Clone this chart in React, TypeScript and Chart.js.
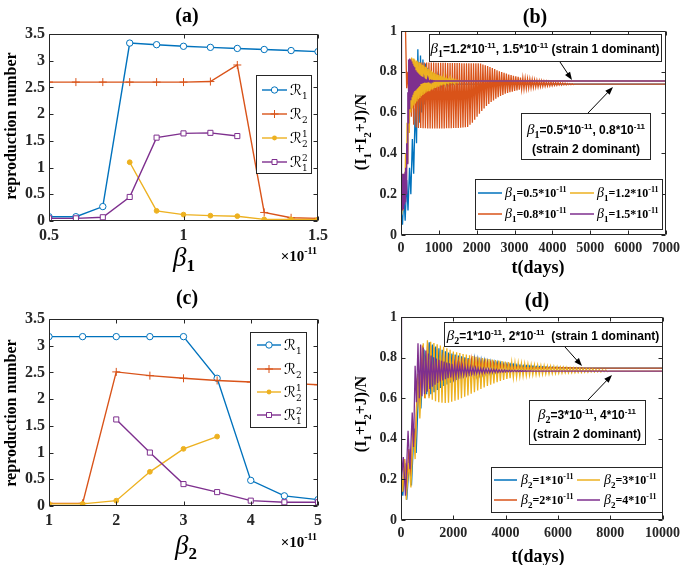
import React, { useEffect, useRef } from 'react';
import { Chart, registerables } from 'chart.js';

Chart.register(...registerables);

const BLUE = '#0072BD';
const ORANGE = '#D95319';
const YELLOW = '#EDB120';
const PURPLE = '#7E2F8E';
const AXIS = '#262626';
const SERIF = "'Liberation Serif', 'Times New Roman', serif";
const SANS = "'Liberation Sans', Arial, sans-serif";
const MATH = "'DejaVu Serif', 'DejaVu Sans', serif";

// ---------------- panel (a): reproduction numbers vs beta1 (x 1e-11) ----------------
const A_BETA1 = [0.5, 0.6, 0.7, 0.8, 0.9, 1.0, 1.1, 1.2, 1.3, 1.4, 1.5];
const A_R1 = [0.08, 0.08, 0.27, 3.33, 3.3, 3.27, 3.25, 3.23, 3.21, 3.19, 3.17];
const A_R2 = [2.6, 2.6, 2.6, 2.6, 2.6, 2.6, 2.61, 2.92, 0.16, 0.06, 0.05];
const A_R21 = [null, null, null, 1.1, 0.19, 0.12, 0.1, 0.09, 0.03, 0.03, 0.03];
const A_R12 = [0.05, 0.05, 0.07, 0.45, 1.56, 1.64, 1.65, 1.59, null, null, null];

// ---------------- panel (c): reproduction numbers vs beta2 (x 1e-11) ----------------
const C_BETA2 = [1, 1.5, 2, 2.5, 3, 3.5, 4, 4.5, 5];
const C_R1 = [3.17, 3.17, 3.17, 3.17, 3.17, 2.39, 0.48, 0.19, 0.12];
const C_R2 = [0.05, 0.05, 2.51, 2.44, 2.39, 2.35, 2.32, 2.3, 2.27];
const C_R21 = [0.04, 0.04, 0.1, 0.64, 1.07, 1.3, null, null, null];
const C_R12 = [null, null, 1.62, 1.0, 0.41, 0.26, 0.1, 0.07, 0.07];

// ---------------- panel (b): (I1+I2+J)/N vs t, beta1 varied ----------------
// each series: leading points (t, v), then alternating extrema
// (first list starts at T0, samples HALF days apart), then the settled value.
const B_TMAX = 7000;
const B_BLUE_PRE_T = [0, 40, 75, 110, 150, 185, 225, 260, 300, 335, 375, 410, 445, 480, 515];
const B_BLUE_PRE_V = [0.12, 0.05, 0.2, 0.07, 0.27, 0.12, 0.33, 0.2, 0.47, 0.3, 0.62, 0.45, 0.91, 0.55, 0.88];
const B_BLUE_T0 = 547;
const B_BLUE_HALF = 32;
const B_BLUE_A = [0.6, 0.64, 0.67, 0.69, 0.7, 0.71, 0.715, 0.72, 0.725, 0.728, 0.731, 0.734, 0.736, 0.738];
const B_BLUE_B = [0.86, 0.84, 0.82, 0.805, 0.795, 0.785, 0.775, 0.768, 0.762, 0.756, 0.752, 0.748, 0.745, 0.743];
const B_BLUE_END = 0.74;

const B_ORANGE_PRE_T = [0, 120, 150];
const B_ORANGE_PRE_V = [1.0, 1.0, 0.72];
const B_ORANGE_T0 = 180;
const B_ORANGE_HALF = 31;
const B_ORANGE_A = [
  0.8, 0.84, 0.85, 0.848, 0.847, 0.847, 0.846, 0.846, 0.845, 0.845,
  0.845, 0.845, 0.844, 0.844, 0.844, 0.844, 0.844, 0.843, 0.843, 0.843,
  0.843, 0.843, 0.843, 0.842, 0.842, 0.842, 0.842, 0.842, 0.842, 0.842,
  0.842, 0.84, 0.836, 0.832, 0.828, 0.823, 0.818, 0.813, 0.808, 0.803,
  0.799, 0.795, 0.791, 0.787, 0.784, 0.781, 0.778, 0.775, 0.772, 0.77,
  0.768, 0.766, 0.764, 0.762, 0.76, 0.758, 0.756, 0.755, 0.753, 0.752,
  0.751, 0.75, 0.749, 0.748, 0.747, 0.746, 0.745, 0.744, 0.743, 0.742, 0.741,
];
const B_ORANGE_B = [
  0.66, 0.58, 0.54, 0.527, 0.525, 0.524, 0.523, 0.523, 0.522, 0.522,
  0.522, 0.522, 0.522, 0.522, 0.522, 0.522, 0.523, 0.523, 0.523, 0.524,
  0.524, 0.525, 0.526, 0.527, 0.528, 0.53, 0.54, 0.55, 0.565, 0.58,
  0.595, 0.608, 0.62, 0.632, 0.642, 0.652, 0.66, 0.668, 0.675, 0.681,
  0.687, 0.692, 0.696, 0.7, 0.703, 0.706, 0.709, 0.712, 0.714, 0.716,
  0.718, 0.72, 0.722, 0.723, 0.725, 0.726, 0.727, 0.728, 0.729, 0.73,
  0.731, 0.732, 0.733, 0.734, 0.735, 0.735, 0.736, 0.736, 0.737, 0.737, 0.738,
];
const B_ORANGE_END = 0.74;

const B_YELLOW_PRE_T = [0, 20, 40, 60, 80, 100, 120, 140, 160, 180, 200, 220];
const B_YELLOW_PRE_V = [0.15, 0.1, 0.2, 0.12, 0.3, 0.17, 0.4, 0.25, 0.55, 0.35, 0.7, 0.5];
const B_YELLOW_T0 = 240;
const B_YELLOW_HALF = 20;
const B_YELLOW_A = [
  0.86, 0.87, 0.865, 0.86, 0.855, 0.85, 0.845, 0.84, 0.835, 0.83, 0.825, 0.82,
  0.815, 0.81, 0.805, 0.8, 0.795, 0.79, 0.787, 0.784, 0.781, 0.778, 0.775, 0.772,
  0.77, 0.768, 0.766, 0.764, 0.762, 0.761, 0.76, 0.759, 0.758, 0.757, 0.756,
];
const B_YELLOW_B = [
  0.6, 0.62, 0.635, 0.645, 0.655, 0.665, 0.672, 0.68, 0.686, 0.692, 0.698, 0.703,
  0.708, 0.712, 0.716, 0.72, 0.724, 0.727, 0.73, 0.733, 0.736, 0.738, 0.74, 0.742,
  0.744, 0.746, 0.747, 0.748, 0.749, 0.75, 0.751, 0.752, 0.753, 0.754, 0.755,
];
const B_YELLOW_END = 0.755;

const B_PURPLE_PRE_T = [0, 8, 18, 28, 38, 48, 58, 68, 78, 88, 98, 108, 118, 128, 138, 150, 165, 180, 190];
const B_PURPLE_PRE_V = [1.0, 0.3, 0.12, 0.3, 0.12, 0.28, 0.13, 0.3, 0.14, 0.29, 0.15, 0.31, 0.16, 0.33, 0.2, 0.45, 0.35, 0.7, 0.55];
const B_PURPLE_T0 = 200;
const B_PURPLE_HALF = 12;
const B_PURPLE_A = [
  0.86, 0.865, 0.86, 0.85, 0.84, 0.83, 0.822, 0.815, 0.808, 0.8, 0.795, 0.79,
  0.785, 0.78, 0.777, 0.774, 0.771, 0.768, 0.766, 0.764, 0.762, 0.761, 0.76,
  0.759, 0.758, 0.757, 0.757, 0.756, 0.756,
];
const B_PURPLE_B = [
  0.62, 0.64, 0.66, 0.675, 0.688, 0.698, 0.706, 0.713, 0.719, 0.724, 0.729, 0.733,
  0.737, 0.74, 0.742, 0.744, 0.746, 0.748, 0.749, 0.75, 0.751, 0.752, 0.752,
  0.753, 0.753, 0.754, 0.754, 0.755, 0.755,
];
const B_PURPLE_END = 0.755;

// ---------------- panel (d): (I1+I2+J)/N vs t, beta2 varied ----------------
const D_TMAX = 10000;
const D_BLUE_PRE_T = [0, 70, 150, 220, 320, 400, 500, 580, 680, 760, 880, 980];
const D_BLUE_PRE_V = [0.22, 0.12, 0.28, 0.1, 0.3, 0.17, 0.45, 0.33, 0.68, 0.55, 0.84, 0.62];
const D_BLUE_T0 = 1080;
const D_BLUE_HALF = 62;
const D_BLUE_A = [
  0.875, 0.865, 0.855, 0.846, 0.838, 0.831, 0.825, 0.82, 0.815, 0.81,
  0.806, 0.802, 0.798, 0.795, 0.792, 0.789, 0.786, 0.783, 0.78, 0.778,
  0.776, 0.774, 0.772, 0.77, 0.768, 0.766, 0.765, 0.764, 0.762, 0.761,
  0.76, 0.759, 0.758, 0.757, 0.756, 0.755, 0.754, 0.753, 0.753, 0.752,
  0.752, 0.751, 0.751, 0.75, 0.75, 0.749, 0.749, 0.749,
];
const D_BLUE_B = [
  0.62, 0.63, 0.64, 0.65, 0.66, 0.668, 0.676, 0.683, 0.69, 0.696,
  0.701, 0.706, 0.71, 0.714, 0.718, 0.721, 0.724, 0.727, 0.729, 0.731,
  0.733, 0.735, 0.737, 0.738, 0.739, 0.74, 0.741, 0.742, 0.743, 0.743,
  0.744, 0.744, 0.745, 0.745, 0.745, 0.746, 0.746, 0.746, 0.747, 0.747,
  0.747, 0.747, 0.748, 0.748, 0.748, 0.748, 0.748, 0.748,
];
const D_BLUE_END = 0.748;

const D_ORANGE_PRE_T = [0, 60, 140, 210, 300, 380, 470, 540, 630, 710, 820, 910];
const D_ORANGE_PRE_V = [0.2, 0.14, 0.3, 0.15, 0.35, 0.22, 0.47, 0.36, 0.7, 0.55, 0.86, 0.6];
const D_ORANGE_T0 = 1020;
const D_ORANGE_HALF = 60;
const D_ORANGE_A = [
  0.87, 0.86, 0.85, 0.842, 0.835, 0.828, 0.822, 0.817, 0.812, 0.808,
  0.804, 0.8, 0.796, 0.793, 0.79, 0.787, 0.784, 0.781, 0.779, 0.777,
  0.775, 0.773, 0.771, 0.769, 0.767, 0.766, 0.765, 0.763, 0.762, 0.761,
  0.76, 0.759, 0.758, 0.757, 0.756, 0.755, 0.754, 0.754, 0.753, 0.753,
  0.752, 0.752, 0.751, 0.751, 0.75, 0.75, 0.75, 0.749, 0.749, 0.749,
];
const D_ORANGE_B = [
  0.61, 0.625, 0.638, 0.65, 0.66, 0.669, 0.677, 0.684, 0.69, 0.696,
  0.701, 0.706, 0.71, 0.714, 0.717, 0.72, 0.723, 0.726, 0.728, 0.73,
  0.732, 0.734, 0.736, 0.737, 0.738, 0.739, 0.74, 0.741, 0.742, 0.743,
  0.743, 0.744, 0.744, 0.745, 0.745, 0.746, 0.746, 0.746, 0.747, 0.747,
  0.747, 0.747, 0.748, 0.748, 0.748, 0.748, 0.748, 0.748, 0.748, 0.748,
];
const D_ORANGE_END = 0.748;

const D_YELLOW_PRE_T = [0, 60, 130, 200, 300, 380, 470, 540, 640, 720, 850, 930];
const D_YELLOW_PRE_V = [0.25, 0.14, 0.3, 0.1, 0.28, 0.16, 0.45, 0.3, 0.72, 0.5, 0.87, 0.6];
const D_YELLOW_T0 = 1010;
const D_YELLOW_HALF = 62;
const D_YELLOW_A = [
  0.885, 0.878, 0.872, 0.866, 0.86, 0.853, 0.846, 0.838, 0.83, 0.826,
  0.822, 0.818, 0.815, 0.811, 0.808, 0.804, 0.8, 0.798, 0.795, 0.793,
  0.79, 0.788, 0.785, 0.783, 0.78, 0.778, 0.777, 0.775, 0.773, 0.771,
  0.769, 0.767, 0.765, 0.764, 0.762, 0.761, 0.76, 0.758, 0.757, 0.756,
  0.754, 0.753, 0.752, 0.751, 0.75, 0.749, 0.748, 0.747, 0.746, 0.745,
  0.744, 0.743, 0.742, 0.741, 0.74, 0.739,
];
const D_YELLOW_B = [
  0.6, 0.592, 0.585, 0.58, 0.578, 0.577, 0.578, 0.582, 0.587, 0.593,
  0.6, 0.607, 0.614, 0.622, 0.63, 0.638, 0.646, 0.653, 0.66, 0.667,
  0.673, 0.679, 0.685, 0.69, 0.695, 0.698, 0.701, 0.704, 0.707, 0.709,
  0.711, 0.713, 0.715, 0.716, 0.717, 0.718, 0.719, 0.72, 0.721, 0.722,
  0.723, 0.724, 0.725, 0.725, 0.726, 0.726, 0.727, 0.727, 0.728, 0.728,
  0.729, 0.729, 0.73, 0.73, 0.731, 0.731,
];
const D_YELLOW_END = 0.733;

const D_PURPLE_PRE_T = [0, 20, 90, 170, 270, 340, 430, 480, 540, 590];
const D_PURPLE_PRE_V = [1.0, 0.2, 0.31, 0.12, 0.44, 0.25, 0.53, 0.36, 0.76, 0.58];
const D_PURPLE_T0 = 650;
const D_PURPLE_HALF = 50;
const D_PURPLE_A = [
  0.87, 0.865, 0.85, 0.835, 0.82, 0.81, 0.802, 0.795, 0.789, 0.784,
  0.78, 0.776, 0.772, 0.769, 0.766, 0.763, 0.761, 0.759, 0.757, 0.755,
  0.753, 0.751, 0.75, 0.748, 0.747, 0.746, 0.745, 0.744, 0.743, 0.742,
  0.741, 0.74, 0.739, 0.739, 0.738, 0.738, 0.737, 0.737, 0.736, 0.736,
  0.735, 0.735, 0.734, 0.734,
];
const D_PURPLE_B = [
  0.6, 0.61, 0.62, 0.632, 0.645, 0.656, 0.666, 0.675, 0.682, 0.688,
  0.693, 0.698, 0.702, 0.705, 0.708, 0.711, 0.713, 0.715, 0.717, 0.719,
  0.72, 0.721, 0.722, 0.723, 0.724, 0.725, 0.726, 0.726, 0.727, 0.728,
  0.728, 0.729, 0.729, 0.73, 0.73, 0.73, 0.731, 0.731, 0.731, 0.732,
  0.732, 0.732, 0.733, 0.733,
];
const D_PURPLE_END = 0.733;

// ---------------- layout ----------------
const PAGE_W = 685;
const PAGE_H = 565;
const YW = 40;
const XH = 30;
const RA = { l: 49, t: 34, r: 318, b: 221 };
const RB = { l: 401, t: 31, r: 670, b: 235 };
const RC = { l: 49, t: 319, r: 318, b: 506 };
const RD = { l: 401, t: 317, r: 670, b: 520 };

type Pt = { x: number; y: number | null };

function catSeries(xs: number[], ys: (number | null)[]): Pt[] {
  return xs.map((x, i) => ({ x, y: ys[i] }));
}

function timeSeries(preT: number[], preV: number[], t0: number, half: number, a: number[], b: number[], end: number, tMax: number): Pt[] {
  const pts: Pt[] = preT.map((t, i) => ({ x: t, y: preV[i] }));
  let t = t0;
  const n = Math.max(a.length, b.length);
  for (let i = 0; i < n; i++) {
    if (i < a.length) { pts.push({ x: t, y: a[i] }); t += half; }
    if (i < b.length) { pts.push({ x: t, y: b[i] }); t += half; }
  }
  pts.push({ x: t, y: end });
  pts.push({ x: tMax, y: end });
  return pts;
}

// ---------------- drawing helpers ----------------
type Seg = { s: string; f: string; dy?: number; stack?: boolean };

function rich(ctx: CanvasRenderingContext2D, segs: Seg[], x: number, y: number, align: string = 'left', color = '#000') {
  let w = 0;
  for (const g of segs) { ctx.font = g.f; if (!g.stack) w += ctx.measureText(g.s).width; }
  let cx = align === 'left' ? x : align === 'center' ? x - w / 2 : x - w;
  ctx.textAlign = 'left';
  ctx.textBaseline = 'alphabetic';
  ctx.fillStyle = color;
  for (const g of segs) {
    ctx.font = g.f;
    ctx.fillText(g.s, cx, y + (g.dy || 0));
    if (!g.stack) cx += ctx.measureText(g.s).width;
  }
}

function box(ctx: CanvasRenderingContext2D, x1: number, y1: number, x2: number, y2: number) {
  ctx.fillStyle = '#fff';
  ctx.fillRect(x1, y1, x2 - x1, y2 - y1);
  ctx.strokeStyle = '#262626';
  ctx.lineWidth = 1;
  ctx.strokeRect(x1 + 0.5, y1 + 0.5, x2 - x1 - 1, y2 - y1 - 1);
}

function arrow(ctx: CanvasRenderingContext2D, x1: number, y1: number, x2: number, y2: number) {
  const ang = Math.atan2(y2 - y1, x2 - x1);
  const hl = 8;
  const hw = 3;
  ctx.strokeStyle = '#000';
  ctx.fillStyle = '#000';
  ctx.lineWidth = 1;
  ctx.beginPath();
  ctx.moveTo(x1, y1);
  ctx.lineTo(x2 - Math.cos(ang) * hl * 0.8, y2 - Math.sin(ang) * hl * 0.8);
  ctx.stroke();
  ctx.beginPath();
  ctx.moveTo(x2, y2);
  ctx.lineTo(x2 - Math.cos(ang) * hl - Math.sin(ang) * hw, y2 - Math.sin(ang) * hl + Math.cos(ang) * hw);
  ctx.lineTo(x2 - Math.cos(ang) * hl + Math.sin(ang) * hw, y2 - Math.sin(ang) * hl - Math.cos(ang) * hw);
  ctx.closePath();
  ctx.fill();
}

function frame(ctx: CanvasRenderingContext2D, chart: any) {
  const { left, right, top, bottom } = chart.chartArea;
  const l = Math.round(left) + 0.5;
  const r = Math.round(right) - 0.5;
  const t = Math.round(top) + 0.5;
  const b = Math.round(bottom) - 0.5;
  const TL = 4;
  ctx.strokeStyle = AXIS;
  ctx.lineWidth = 1;
  ctx.beginPath();
  ctx.rect(l, t, r - l, b - t);
  const xs = chart.scales.x;
  const ys = chart.scales.y;
  for (const tk of xs.ticks) {
    const px = Math.round(xs.getPixelForValue(tk.value)) + 0.5;
    ctx.moveTo(px, b); ctx.lineTo(px, b - TL);
    ctx.moveTo(px, t); ctx.lineTo(px, t + TL);
  }
  for (const tk of ys.ticks) {
    const py = Math.round(ys.getPixelForValue(tk.value)) + 0.5;
    ctx.moveTo(l, py); ctx.lineTo(l + TL, py);
    ctx.moveTo(r, py); ctx.lineTo(r - TL, py);
  }
  ctx.stroke();
}

function marker(ctx: CanvasRenderingContext2D, kind: string, x: number, y: number, color: string) {
  ctx.strokeStyle = color;
  ctx.lineWidth = 1;
  ctx.beginPath();
  if (kind === 'circle') {
    ctx.arc(x, y, 3.2, 0, Math.PI * 2);
    ctx.fillStyle = '#fff'; ctx.fill(); ctx.stroke();
  } else if (kind === 'cross') {
    ctx.moveTo(x - 4, y); ctx.lineTo(x + 4, y);
    ctx.moveTo(x, y - 4); ctx.lineTo(x, y + 4);
    ctx.stroke();
  } else if (kind === 'dot') {
    ctx.arc(x, y, 2.4, 0, Math.PI * 2);
    ctx.fillStyle = color; ctx.fill();
  } else if (kind === 'square') {
    ctx.rect(x - 2.5, y - 2.5, 5, 5);
    ctx.fillStyle = '#fff'; ctx.fill(); ctx.stroke();
  }
}

const bs = (px: number) => `bold ${px}px ${SERIF}`;
const bsans = (px: number) => `bold ${px}px ${SANS}`;
const ital = (px: number) => `italic ${px}px ${SERIF}`;
const math = (px: number) => `${px}px ${MATH}`;

function rLabel(sub: string, sup?: string): Seg[] {
  const segs: Seg[] = [{ s: '\u211B', f: math(15) }];
  if (sup) {
    segs.push({ s: sub, f: math(9), dy: 4, stack: true });
    segs.push({ s: sup, f: math(9), dy: -6 });
  } else {
    segs.push({ s: sub, f: math(9), dy: 4 });
  }
  return segs;
}

function betaLegend(k: string, val: string): Seg[] {
  return [
    { s: '\u03B2', f: ital(14) },
    { s: k, f: bs(9), dy: 4 },
    { s: '=' + val + '*10', f: bs(12) },
    { s: '-11', f: bs(8), dy: -5 },
  ];
}

function betaNote(k: string, v1: string, v2: string, gap: string, tail: string): Seg[] {
  const segs: Seg[] = [
    { s: '\u03B2', f: ital(15) },
    { s: k, f: bs(10), dy: 4 },
    { s: '=' + v1 + '*10', f: bsans(12) },
    { s: '-11', f: bsans(8), dy: -5 },
    { s: ', ' + v2 + '*10', f: bsans(12) },
    { s: '-11', f: bsans(8), dy: -5 },
  ];
  if (tail) segs.push({ s: gap + tail, f: bsans(12) });
  return segs;
}

function iLabel(): Seg[] {
  return [
    { s: '(I', f: bs(16) },
    { s: '1', f: bs(11), dy: 5 },
    { s: '+I', f: bs(16) },
    { s: '2', f: bs(11), dy: 5 },
    { s: '+J)/N', f: bs(16) },
  ];
}

function rotated(ctx: CanvasRenderingContext2D, segs: Seg[], x: number, y: number) {
  ctx.save();
  ctx.translate(x, y);
  ctx.rotate(-Math.PI / 2);
  rich(ctx, segs, 0, 0, 'center', '#000');
  ctx.restore();
}

type LegRow = { kind: string; color: string; label: Seg[] };

function rLegend(ctx: CanvasRenderingContext2D, x1: number, y1: number, x2: number, y2: number, rows: LegRow[], rowY: number[], lx1: number, lx2: number, tx: number) {
  box(ctx, x1, y1, x2, y2);
  rows.forEach((row, i) => {
    const y = rowY[i];
    ctx.strokeStyle = row.color;
    ctx.lineWidth = 1.4;
    ctx.beginPath();
    ctx.moveTo(lx1, y); ctx.lineTo(lx2, y);
    ctx.stroke();
    marker(ctx, row.kind, (lx1 + lx2) / 2, y, row.color);
    rich(ctx, row.label, tx, y + 5, 'left', '#000');
  });
}

function tLegend(ctx: CanvasRenderingContext2D, x1: number, y1: number, x2: number, y2: number, items: { color: string; label: Seg[] }[], rowY: number[], colLine: number[][], colText: number[]) {
  box(ctx, x1, y1, x2, y2);
  items.forEach((it, i) => {
    const col = Math.floor(i / 2);
    const row = i % 2;
    const y = rowY[row];
    ctx.strokeStyle = it.color;
    ctx.lineWidth = 1.5;
    ctx.beginPath();
    ctx.moveTo(colLine[col][0], y); ctx.lineTo(colLine[col][1], y);
    ctx.stroke();
    rich(ctx, it.label, colText[col], y + 4, 'left', '#000');
  });
}

function exponent(ctx: CanvasRenderingContext2D, x: number, y: number) {
  rich(ctx, [{ s: '\u00D710', f: bs(15) }, { s: '-11', f: bs(10), dy: -7 }], x, y, 'right', '#000');
}

// ---------------- chart configs ----------------
function options(rect: any, xr: any, yr: any, tickSize: number) {
  const font = { family: SERIF, size: tickSize, weight: 'bold' };
  return {
    animation: false,
    responsive: false,
    maintainAspectRatio: false,
    devicePixelRatio: 1,
    events: [],
    layout: {
      autoPadding: false,
      padding: { left: rect.l - YW, top: rect.t, right: PAGE_W - rect.r, bottom: PAGE_H - rect.b - XH },
    },
    plugins: { legend: { display: false }, tooltip: { enabled: false }, title: { display: false } },
    scales: {
      x: {
        type: 'linear', min: xr.min, max: xr.max,
        afterFit: (s: any) => { s.height = XH; },
        ticks: { stepSize: xr.step, autoSkip: false, maxRotation: 0, padding: 5, color: AXIS, font, callback: (v: any) => String(v) },
        grid: { display: false, drawTicks: false },
        border: { display: false },
      },
      y: {
        type: 'linear', min: yr.min, max: yr.max,
        afterFit: (s: any) => { s.width = YW; },
        ticks: { stepSize: yr.step, autoSkip: false, padding: 4, color: AXIS, font, callback: (v: any) => String(v) },
        grid: { display: false, drawTicks: false },
        border: { display: false },
      },
    },
  };
}

function overlay(draw: (ctx: CanvasRenderingContext2D, chart: any) => void) {
  return {
    id: 'overlay',
    afterDraw(chart: any) {
      const ctx = chart.ctx;
      ctx.save();
      draw(ctx, chart);
      ctx.restore();
    },
  };
}

function rDatasets(xs: number[], r1: any[], r2: any[], r21: any[], r12: any[]) {
  const common = { borderWidth: 1.4, tension: 0, spanGaps: false, pointBorderWidth: 1 };
  return [
    { ...common, label: 'R1', data: catSeries(xs, r1), borderColor: BLUE, pointStyle: 'circle', pointRadius: 3.2, pointBorderColor: BLUE, pointBackgroundColor: '#fff', order: 4 },
    { ...common, label: 'R2', data: catSeries(xs, r2), borderColor: ORANGE, pointStyle: 'cross', pointRadius: 4, pointBorderColor: ORANGE, pointBackgroundColor: ORANGE, order: 3 },
    { ...common, label: 'R21', data: catSeries(xs, r21), borderColor: YELLOW, pointStyle: 'circle', pointRadius: 2.4, pointBorderColor: YELLOW, pointBackgroundColor: YELLOW, order: 2 },
    { ...common, label: 'R12', data: catSeries(xs, r12), borderColor: PURPLE, pointStyle: 'rect', pointRadius: 3.6, pointBorderColor: PURPLE, pointBackgroundColor: '#fff', order: 1 },
  ];
}

function tDataset(label: string, pts: Pt[], color: string, order: number) {
  return { label, data: pts, borderColor: color, backgroundColor: color, borderWidth: 1.3, pointRadius: 0, tension: 0, order };
}

const R_ROWS: LegRow[] = [
  { kind: 'circle', color: BLUE, label: rLabel('1') },
  { kind: 'cross', color: ORANGE, label: rLabel('2') },
  { kind: 'dot', color: YELLOW, label: rLabel('2', '1') },
  { kind: 'square', color: PURPLE, label: rLabel('1', '2') },
];

function configA() {
  return {
    type: 'line',
    data: { datasets: rDatasets(A_BETA1, A_R1, A_R2, A_R21, A_R12) },
    options: options(RA, { min: 0.5, max: 1.5, step: 0.5 }, { min: 0, max: 3.5, step: 0.5 }, 16),
    plugins: [overlay((ctx, chart) => {
      frame(ctx, chart);
      rLegend(ctx, 256, 75, 312, 174, R_ROWS, [90, 114, 138, 162], 262, 287, 290);
      rich(ctx, [{ s: '(a)', f: bs(20) }], 187, 22, 'center');
      rotated(ctx, [{ s: 'reproduction number', f: bs(16) }], 16, 126);
      rich(ctx, [{ s: '\u03B2', f: ital(27) }, { s: '1', f: bs(17), dy: 5 }], 184, 266, 'center');
      exponent(ctx, 317, 261);
    })],
  };
}

function configC() {
  return {
    type: 'line',
    data: { datasets: rDatasets(C_BETA2, C_R1, C_R2, C_R21, C_R12) },
    options: options(RC, { min: 1, max: 5, step: 1 }, { min: 0, max: 3.5, step: 0.5 }, 16),
    plugins: [overlay((ctx, chart) => {
      frame(ctx, chart);
      rLegend(ctx, 250, 332, 307, 428, R_ROWS, [345, 369, 392, 415], 257, 281, 284);
      rich(ctx, [{ s: '(c)', f: bs(20) }], 187, 304, 'center');
      rotated(ctx, [{ s: 'reproduction number', f: bs(16) }], 16, 413);
      rich(ctx, [{ s: '\u03B2', f: ital(27) }, { s: '2', f: bs(17), dy: 5 }], 186, 554, 'center');
      exponent(ctx, 317, 547);
    })],
  };
}

function configB() {
  return {
    type: 'line',
    data: {
      datasets: [
        tDataset('b1=0.5', timeSeries(B_BLUE_PRE_T, B_BLUE_PRE_V, B_BLUE_T0, B_BLUE_HALF, B_BLUE_A, B_BLUE_B, B_BLUE_END, B_TMAX), BLUE, 4),
        tDataset('b1=0.8', timeSeries(B_ORANGE_PRE_T, B_ORANGE_PRE_V, B_ORANGE_T0, B_ORANGE_HALF, B_ORANGE_A, B_ORANGE_B, B_ORANGE_END, B_TMAX), ORANGE, 3),
        tDataset('b1=1.2', timeSeries(B_YELLOW_PRE_T, B_YELLOW_PRE_V, B_YELLOW_T0, B_YELLOW_HALF, B_YELLOW_A, B_YELLOW_B, B_YELLOW_END, B_TMAX), YELLOW, 2),
        tDataset('b1=1.5', timeSeries(B_PURPLE_PRE_T, B_PURPLE_PRE_V, B_PURPLE_T0, B_PURPLE_HALF, B_PURPLE_A, B_PURPLE_B, B_PURPLE_END, B_TMAX), PURPLE, 1),
      ],
    },
    options: options(RB, { min: 0, max: B_TMAX, step: 1000 }, { min: 0, max: 1, step: 0.2 }, 14),
    plugins: [overlay((ctx, chart) => {
      frame(ctx, chart);
      rich(ctx, [{ s: '(b)', f: bs(20) }], 535, 23, 'center');
      rotated(ctx, iLabel(), 366, 132);
      rich(ctx, [{ s: 't(days)', f: bs(18) }], 538, 273, 'center');
      box(ctx, 429, 34, 662, 62);
      rich(ctx, betaNote('1', '1.2', '1.5', ' ', '(strain 1 dominant)'), 545, 53, 'center');
      arrow(ctx, 560, 62, 572, 80);
      box(ctx, 521, 113, 651, 160);
      rich(ctx, betaNote('1', '0.5', '0.8', '', ''), 586, 134, 'center');
      rich(ctx, [{ s: '(strain 2 dominant)', f: bsans(12) }], 586, 153, 'center');
      arrow(ctx, 588, 113, 613, 87);
      tLegend(ctx, 475, 179, 663, 230, [
        { color: BLUE, label: betaLegend('1', '0.5') },
        { color: ORANGE, label: betaLegend('1', '0.8') },
        { color: YELLOW, label: betaLegend('1', '1.2') },
        { color: PURPLE, label: betaLegend('1', '1.5') },
      ], [193, 214], [[478, 502], [570, 594]], [505, 597]);
    })],
  };
}

function configD() {
  return {
    type: 'line',
    data: {
      datasets: [
        tDataset('b2=1', timeSeries(D_BLUE_PRE_T, D_BLUE_PRE_V, D_BLUE_T0, D_BLUE_HALF, D_BLUE_A, D_BLUE_B, D_BLUE_END, D_TMAX), BLUE, 4),
        tDataset('b2=2', timeSeries(D_ORANGE_PRE_T, D_ORANGE_PRE_V, D_ORANGE_T0, D_ORANGE_HALF, D_ORANGE_A, D_ORANGE_B, D_ORANGE_END, D_TMAX), ORANGE, 3),
        tDataset('b2=3', timeSeries(D_YELLOW_PRE_T, D_YELLOW_PRE_V, D_YELLOW_T0, D_YELLOW_HALF, D_YELLOW_A, D_YELLOW_B, D_YELLOW_END, D_TMAX), YELLOW, 2),
        tDataset('b2=4', timeSeries(D_PURPLE_PRE_T, D_PURPLE_PRE_V, D_PURPLE_T0, D_PURPLE_HALF, D_PURPLE_A, D_PURPLE_B, D_PURPLE_END, D_TMAX), PURPLE, 1),
      ],
    },
    options: options(RD, { min: 0, max: D_TMAX, step: 2000 }, { min: 0, max: 1, step: 0.2 }, 14),
    plugins: [overlay((ctx, chart) => {
      frame(ctx, chart);
      rich(ctx, [{ s: '(d)', f: bs(20) }], 537, 307, 'center');
      rotated(ctx, iLabel(), 366, 414);
      rich(ctx, [{ s: 't(days)', f: bs(18) }], 538, 562, 'center');
      box(ctx, 444, 322, 663, 347);
      rich(ctx, betaNote('2', '1', '2', '  ', '(strain 1 dominant)'), 553, 340, 'center');
      arrow(ctx, 565, 347, 582, 366);
      box(ctx, 529, 400, 646, 445);
      rich(ctx, betaNote('2', '3', '4', '', ''), 587, 419, 'center');
      rich(ctx, [{ s: '(strain 2 dominant)', f: bsans(12) }], 587, 438, 'center');
      arrow(ctx, 588, 400, 612, 375);
      tLegend(ctx, 491, 467, 663, 513, [
        { color: BLUE, label: betaLegend('2', '1') },
        { color: ORANGE, label: betaLegend('2', '2') },
        { color: YELLOW, label: betaLegend('2', '3') },
        { color: PURPLE, label: betaLegend('2', '4') },
      ], [480, 500], [[494, 517], [577, 600]], [521, 604]);
    })],
  };
}

export default function App() {
  const ra = useRef<HTMLCanvasElement>(null);
  const rb = useRef<HTMLCanvasElement>(null);
  const rc = useRef<HTMLCanvasElement>(null);
  const rd = useRef<HTMLCanvasElement>(null);

  useEffect(() => {
    const charts = [
      new Chart(ra.current as any, configA() as any),
      new Chart(rb.current as any, configB() as any),
      new Chart(rc.current as any, configC() as any),
      new Chart(rd.current as any, configD() as any),
    ];
    return () => charts.forEach((c) => c.destroy());
  }, []);

  const cs: React.CSSProperties = { position: 'absolute', left: 0, top: 0, width: PAGE_W, height: PAGE_H };
  return (
    <div style={{ position: 'absolute', left: 0, top: 0, width: PAGE_W, height: PAGE_H, background: '#fff', overflow: 'hidden' }}>
      <canvas ref={ra} width={PAGE_W} height={PAGE_H} style={cs} />
      <canvas ref={rb} width={PAGE_W} height={PAGE_H} style={cs} />
      <canvas ref={rc} width={PAGE_W} height={PAGE_H} style={cs} />
      <canvas ref={rd} width={PAGE_W} height={PAGE_H} style={cs} />
    </div>
  );
}
